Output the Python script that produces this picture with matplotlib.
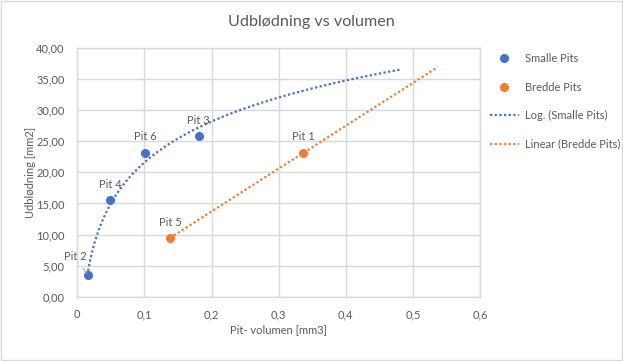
import numpy as np
import matplotlib
matplotlib.use("Agg")
import matplotlib.pyplot as plt
from matplotlib.patches import Rectangle

plt.rcParams['font.family'] = ['Lato', 'DejaVu Sans']

# Data
small_labels = ["Pit 2", "Pit 4", "Pit 6", "Pit 3"]
small_x = [0.016, 0.049, 0.101, 0.181]
small_y = [3.44, 15.5, 23.15, 25.8]

wide_labels = ["Pit 1", "Pit 5"]
wide_x = [0.337, 0.138]
wide_y = [23.15, 9.44]

log_forward = 0.3
lin_forward = 0.2

xticks = [0, 0.1, 0.2, 0.3, 0.4, 0.5, 0.6]
xticklabels = ["0", "0,1", "0,2", "0,3", "0,4", "0,5", "0,6"]
yticks = [0, 5, 10, 15, 20, 25, 30, 35, 40]
yticklabels = ["0,00", "5,00", "10,00", "15,00", "20,00", "25,00", "30,00", "35,00", "40,00"]

blue = "#4472C4"
orange = "#ED7D31"
txt = "#595959"
grid = "#D9D9D9"

fs = 8

fig = plt.figure(figsize=(6.23, 3.61), dpi=100)
ax = fig.add_axes([77.3/623, 1-296.7/361, (480-77.3)/623, (296.7-48)/361])

# trendlines
a, b = np.polyfit(np.log(small_x), small_y, 1)
xl = np.linspace(min(small_x), max(small_x) + log_forward, 300)
ax.plot(xl, a*np.log(xl) + b, color=blue, lw=1.6, ls=(0, (1, 1.1)),
        label="Log. (Smalle Pits)", zorder=3)
m, c = np.polyfit(wide_x, wide_y, 1)
xw = np.array([min(wide_x), max(wide_x) + lin_forward])
ax.plot(xw, m*xw + c, color=orange, lw=1.6, ls=(0, (1, 1.1)),
        label="Linear (Bredde Pits)", zorder=3)

s1, = ax.plot(small_x, small_y, 'o', color=blue, ms=5.5, label="Smalle Pits", zorder=4)
s2, = ax.plot(wide_x, wide_y, 'o', color=orange, ms=5.5, label="Bredde Pits", zorder=4)

for lab, x, y in zip(small_labels + wide_labels, small_x + wide_x, small_y + wide_y):
    if lab == "Pit 2":
        ax.annotate(lab, (x, y), xytext=(-9.5, 13.5), textcoords='offset points',
                    ha='center', va='center', fontsize=fs, color=txt,
                    arrowprops=dict(arrowstyle='-', color='#A6A6A6', lw=0.8,
                                    shrinkA=3, shrinkB=2), zorder=5)
    else:
        ax.annotate(lab, (x, y), xytext=(0, 11.5), textcoords='offset points',
                    ha='center', va='center', fontsize=fs, color=txt, zorder=5)

ax.set_xlim(0, 0.6)
ax.set_ylim(0, 40)
ax.set_xticks(xticks)
ax.set_xticklabels(xticklabels)
ax.set_yticks(yticks)
ax.set_yticklabels(yticklabels)
ax.tick_params(length=0, labelsize=fs, labelcolor=txt)
ax.tick_params(axis='x', pad=9)
ax.tick_params(axis='y', pad=9)
ax.grid(True, color=grid, lw=1)
ax.set_axisbelow(True)
for sp in ax.spines.values():
    sp.set_color(grid)
    sp.set_linewidth(1)

ax.set_xlabel("Pit- volumen [mm3]", fontsize=fs, color=txt, va='center')
ax.set_ylabel("Udblødning [mm2]", fontsize=fs, color=txt, va='center')
ax.xaxis.set_label_coords(0.5, (296.7-330)/248.7)
ax.yaxis.set_label_coords((30-77.3)/402.7, 0.5)
fig.text(311/623, 1-22/361, "Udblødning vs volumen", ha='center', va='center',
         fontsize=11.6, color=txt)

handles, labels = ax.get_legend_handles_labels()
order = [2, 3, 0, 1]
fig.legend([handles[i] for i in order], [labels[i] for i in order],
           loc='upper left', bbox_to_anchor=(490/623, 1-53/361), frameon=False,
           fontsize=fs, labelcolor=txt, handlelength=2.6, handletextpad=0.55,
           labelspacing=1.58, borderpad=0, borderaxespad=0)

fig.patches.append(Rectangle((0.001, 0.002), 0.997, 0.995, transform=fig.transFigure,
                             fill=False, edgecolor='#D9D9D9', lw=1))
fig.savefig("out.png", dpi=100)
